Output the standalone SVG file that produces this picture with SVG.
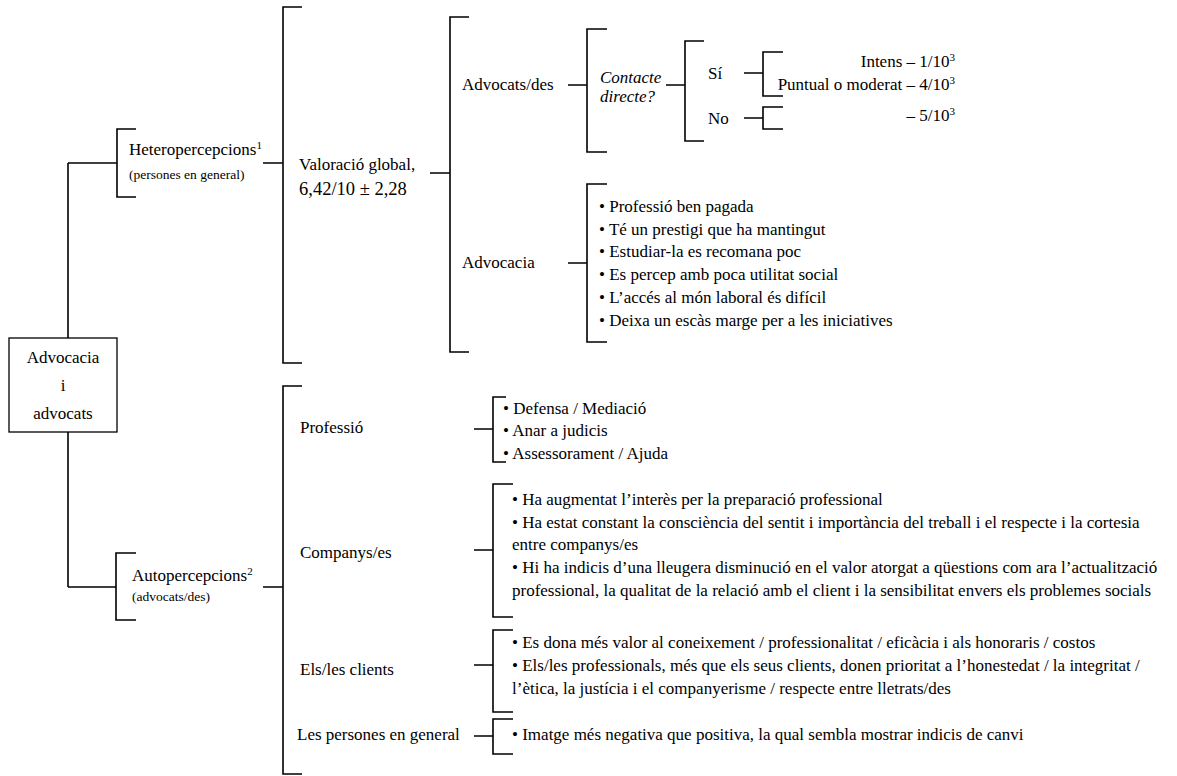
<svg xmlns="http://www.w3.org/2000/svg" width="1177" height="776" viewBox="0 0 1177 776">
<style>
text{font-family:"Liberation Serif","Times New Roman",serif;font-size:17px;fill:#000}
.sm{font-size:13.5px}
.big{font-size:18.5px}
.it{font-style:italic}
.r{text-anchor:end}
.c{text-anchor:middle}
.ln{stroke:#000;stroke-width:1.6;fill:none}
.box{stroke:#000;stroke-width:1.3;fill:#fff}
</style>
<rect width="1177" height="776" fill="#fff"/>
<g id="connectors" class="ln">
<path d="M68,163 V338 M68,432 V587"/>
<path d="M68,163 H117 M136,129 H117 V197 H136"/>
<path d="M68,587 H116 M136,553 H116 V620 H136"/>
<path d="M263,163 H283 M302,7 H283 V363 H302"/>
<path d="M263,587 H283 M302,386 H283 V774 H302"/>
<path d="M430,173 H450 M469,17 H450 V352 H469"/>
<path d="M568,85 H587 M607,29 H587 V152 H607"/>
<path d="M666,85 H685 M704,41 H685 V141 H704"/>
<path d="M744,73 H763 M783,52 H763 V96 H783"/>
<path d="M744,118 H763 M783,107 H763 V129 H783"/>
<path d="M568,263 H587 M607,184 H587 V342 H607"/>
<path d="M474,429 H493 M506,397 H493 V462 H506"/>
<path d="M474,550 H493 M513,484 H493 V617 H513"/>
<path d="M474,665 H493 M513,630 H493 V712 H513"/>
<path d="M474,736 H493 M513,719 H493 V754 H513"/>
</g>
<g id="root"><rect class="box" x="9" y="338" width="108" height="94"/>
<text class="c" x="63" y="363">Advocacia</text><text class="c" x="63" y="391">i</text><text class="c" x="63" y="419">advocats</text></g>
<g id="hetero"><text x="129" y="155">Heteropercepcions<tspan font-size="11" dy="-6">1</tspan></text><text class="sm" x="129" y="179">(persones en general)</text></g>
<g id="auto"><text x="132" y="581">Autopercepcions<tspan font-size="11" dy="-6">2</tspan></text><text class="sm" x="132" y="601">(advocats/des)</text></g>
<g id="valoracio"><text x="299" y="170">Valoració global,</text><text class="big" x="299" y="195">6,42/10 ± 2,28</text></g>
<g id="advocats"><text x="462" y="90">Advocats/des</text></g>
<g id="contacte"><text class="it" x="600" y="83">Contacte</text><text class="it" x="600" y="102">directe?</text></g>
<g id="si"><text x="708" y="79">Sí</text></g>
<g id="no"><text x="708" y="124">No</text></g>
<g id="intens"><text class="r" x="955" y="67">Intens – 1/10<tspan font-size="11" dy="-6">3</tspan></text></g>
<g id="puntual"><text class="r" x="955" y="90">Puntual o moderat – 4/10<tspan font-size="11" dy="-6">3</tspan></text></g>
<g id="no-val"><text class="r" x="955" y="121">– 5/10<tspan font-size="11" dy="-6">3</tspan></text></g>
<g id="advocacia"><text x="462" y="268">Advocacia</text>
<text x="599" y="212">• Professió ben pagada</text>
<text x="599" y="235">• Té un prestigi que ha mantingut</text>
<text x="599" y="257">• Estudiar-la es recomana poc</text>
<text x="599" y="280">• Es percep amb poca utilitat social</text>
<text x="599" y="303">• L’accés al món laboral és difícil</text>
<text x="599" y="326">• Deixa un escàs marge per a les iniciatives</text></g>
<g id="professio"><text x="300" y="433">Professió</text>
<text x="503" y="414">• Defensa / Mediació</text>
<text x="503" y="436">• Anar a judicis</text>
<text x="503" y="459">• Assessorament / Ajuda</text></g>
<g id="companys"><text x="300" y="558">Companys/es</text>
<text x="512" y="505">• Ha augmentat l’interès per la preparació professional</text>
<text x="512" y="528">• Ha estat constant la consciència del sentit i importància del treball i el respecte i la cortesia</text>
<text x="512" y="550">entre companys/es</text>
<text x="512" y="573">• Hi ha indicis d’una lleugera disminució en el valor atorgat a qüestions com ara l’actualització</text>
<text x="512" y="596">professional, la qualitat de la relació amb el client i la sensibilitat envers els problemes socials</text></g>
<g id="clients"><text x="300" y="675">Els/les clients</text>
<text x="512" y="648">• Es dona més valor al coneixement / professionalitat / eficàcia i als honoraris / costos</text>
<text x="512" y="671">• Els/les professionals, més que els seus clients, donen prioritat a l’honestedat / la integritat /</text>
<text x="512" y="694">l’ètica, la justícia i el companyerisme / respecte entre lletrats/des</text></g>
<g id="persones"><text x="297" y="740">Les persones en general</text>
<text x="512" y="740">• Imatge més negativa que positiva, la qual sembla mostrar indicis de canvi</text></g>
</svg>
